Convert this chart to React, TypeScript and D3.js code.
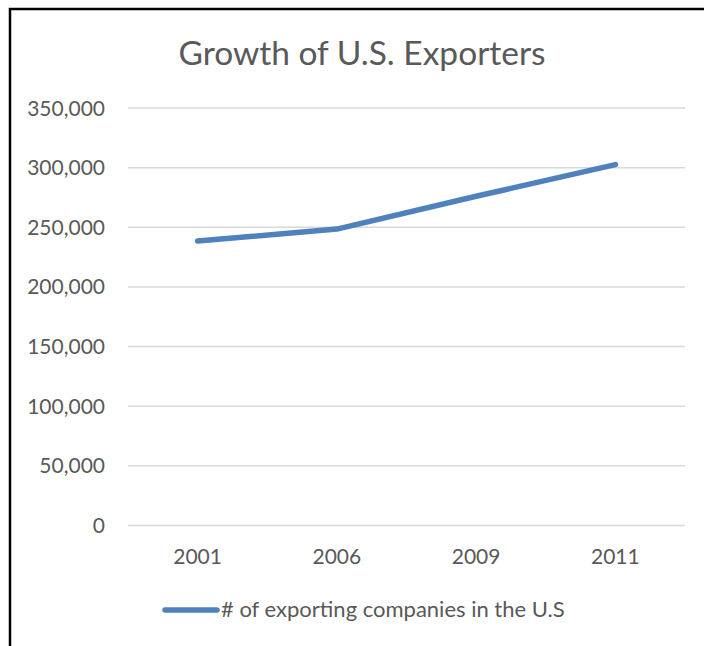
import * as d3 from 'd3';
import { useRef, useEffect } from 'react';

const categories = ['2001', '2006', '2009', '2011'];
const exporters = [238500, 248500, 276000, 302500];
const yTicks = [0, 50000, 100000, 150000, 200000, 250000, 300000, 350000];
const seriesName = '# of exporting companies in the U.S';
const title = 'Growth of U.S. Exporters';

const W = 704;
const H = 646;

const App = () => {
  const svgRef = useRef<SVGSVGElement | null>(null);

  useEffect(() => {
    const svg = d3.select(svgRef.current);
    svg.selectAll('*').remove();
    const font = 'Lato, "Open Sans", sans-serif';
    const textColor = '#595959';

    svg.append('rect').attr('width', W).attr('height', H).attr('fill', '#fff');

    // chart frame (right and bottom edges fall outside the picture)
    svg.append('path')
      .attr('d', `M10,${H + 5} L10,9 L${W + 5},9`)
      .attr('fill', 'none')
      .attr('stroke', '#000')
      .attr('stroke-width', 2.5);

    const plot = { left: 128, right: 685, top: 108, bottom: 525.5 };

    const x = d3.scaleBand()
      .domain(categories)
      .range([plot.left, plot.right]);

    const y = d3.scaleLinear()
      .domain([0, 350000])
      .range([plot.bottom, plot.top]);

    svg.append('text')
      .attr('x', 362)
      .attr('y', 65)
      .attr('text-anchor', 'middle')
      .attr('font-family', font)
      .attr('font-size', 33.5)
      .attr('fill', textColor)
      .text(title);

    const grid = svg.append('g');
    grid.selectAll('line')
      .data(yTicks)
      .enter()
      .append('line')
      .attr('x1', plot.left)
      .attr('x2', plot.right)
      .attr('y1', d => y(d))
      .attr('y2', d => y(d))
      .attr('stroke', '#d9d9d9')
      .attr('stroke-width', 1.5);

    const fmt = d3.format(',');
    svg.append('g').selectAll('text')
      .data(yTicks)
      .enter()
      .append('text')
      .attr('x', 105)
      .attr('y', d => y(d))
      .attr('dy', '0.36em')
      .attr('text-anchor', 'end')
      .attr('font-family', font)
      .attr('font-size', 21)
      .attr('fill', textColor)
      .text(d => fmt(d));

    svg.append('g').selectAll('text')
      .data(categories)
      .enter()
      .append('text')
      .attr('x', d => x(d)! + x.bandwidth() / 2)
      .attr('y', 564)
      .attr('text-anchor', 'middle')
      .attr('font-family', font)
      .attr('font-size', 21)
      .attr('fill', textColor)
      .text(d => d);

    const line = d3.line<number>()
      .x((_, i) => x(categories[i])! + x.bandwidth() / 2)
      .y(d => y(d));

    svg.append('path')
      .datum(exporters)
      .attr('d', line)
      .attr('fill', 'none')
      .attr('stroke', '#4f81bd')
      .attr('stroke-width', 5.5)
      .attr('stroke-linecap', 'round')
      .attr('stroke-linejoin', 'round');

    // legend
    svg.append('line')
      .attr('x1', 165)
      .attr('x2', 217)
      .attr('y1', 610)
      .attr('y2', 610)
      .attr('stroke', '#4f81bd')
      .attr('stroke-width', 5.5)
      .attr('stroke-linecap', 'round');

    svg.append('text')
      .attr('x', 221)
      .attr('y', 617)
      .attr('font-family', font)
      .attr('font-size', 22)
      .attr('fill', textColor)
      .text(seriesName);
  }, []);

  return (
    <svg
      ref={svgRef}
      width={W}
      height={H}
      style={{ position: 'absolute', left: 0, top: 0 }}
    />
  );
};

export default App;
